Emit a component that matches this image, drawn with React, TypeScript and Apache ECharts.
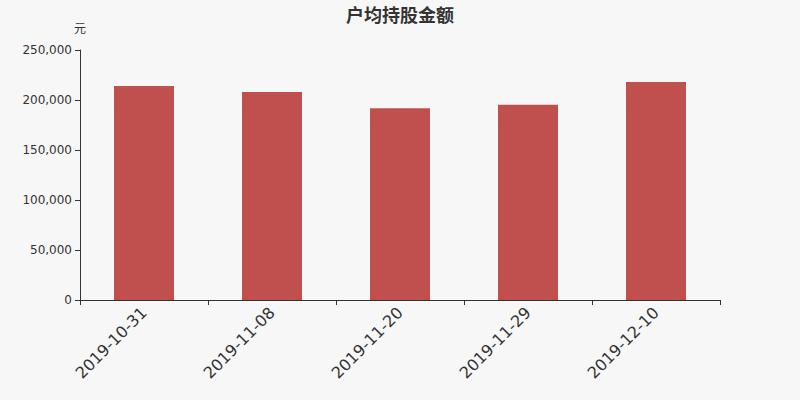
import { useEffect, useRef } from 'react'
import * as echarts from 'echarts'

const dates = ['2019-10-31', '2019-11-08', '2019-11-20', '2019-11-29', '2019-12-10']
const avgHolding = [214000, 208000, 191700, 195300, 218000]

const title = '户均持股金额'
const unit = '元'

export default function App() {
  const elRef = useRef<HTMLDivElement | null>(null)

  useEffect(() => {
    if (!elRef.current) return
    const chart = echarts.init(elRef.current, undefined, { renderer: 'svg' })
    chart.setOption({
      animation: false,
      backgroundColor: '#f7f7f7',
      textStyle: { fontFamily: '"DejaVu Sans", "Noto Sans CJK SC", sans-serif' },
      title: {
        text: title,
        left: 'center',
        top: 1,
        textStyle: { color: '#333', fontSize: 18, fontWeight: 'bold' },
      },
      grid: { left: 80, right: 80, top: 50, bottom: 100 },
      xAxis: {
        type: 'category',
        data: dates,
        axisLine: { lineStyle: { color: '#333' } },
        axisTick: { show: true, length: 5, lineStyle: { color: '#333' } },
        axisLabel: { color: '#333', fontSize: 16, rotate: 45, margin: 10 },
      },
      yAxis: {
        type: 'value',
        name: unit,
        nameGap: 15,
        nameTextStyle: { color: '#333', fontSize: 12, align: 'center' },
        min: 0,
        max: 250000,
        interval: 50000,
        axisLine: { show: true, lineStyle: { color: '#333' } },
        axisTick: { show: true, length: 5, lineStyle: { color: '#333' } },
        axisLabel: {
          color: '#333',
          fontSize: 12,
          formatter: (v: number) => v.toLocaleString('en-US'),
        },
        splitLine: { show: false },
      },
      series: [
        {
          type: 'bar',
          data: avgHolding,
          barWidth: 60,
          itemStyle: { color: '#c0504d' },
        },
      ],
    })
    return () => chart.dispose()
  }, [])

  return (
    <div
      ref={elRef}
      style={{ position: 'absolute', left: 0, top: 0, width: 800, height: 400 }}
    />
  )
}
